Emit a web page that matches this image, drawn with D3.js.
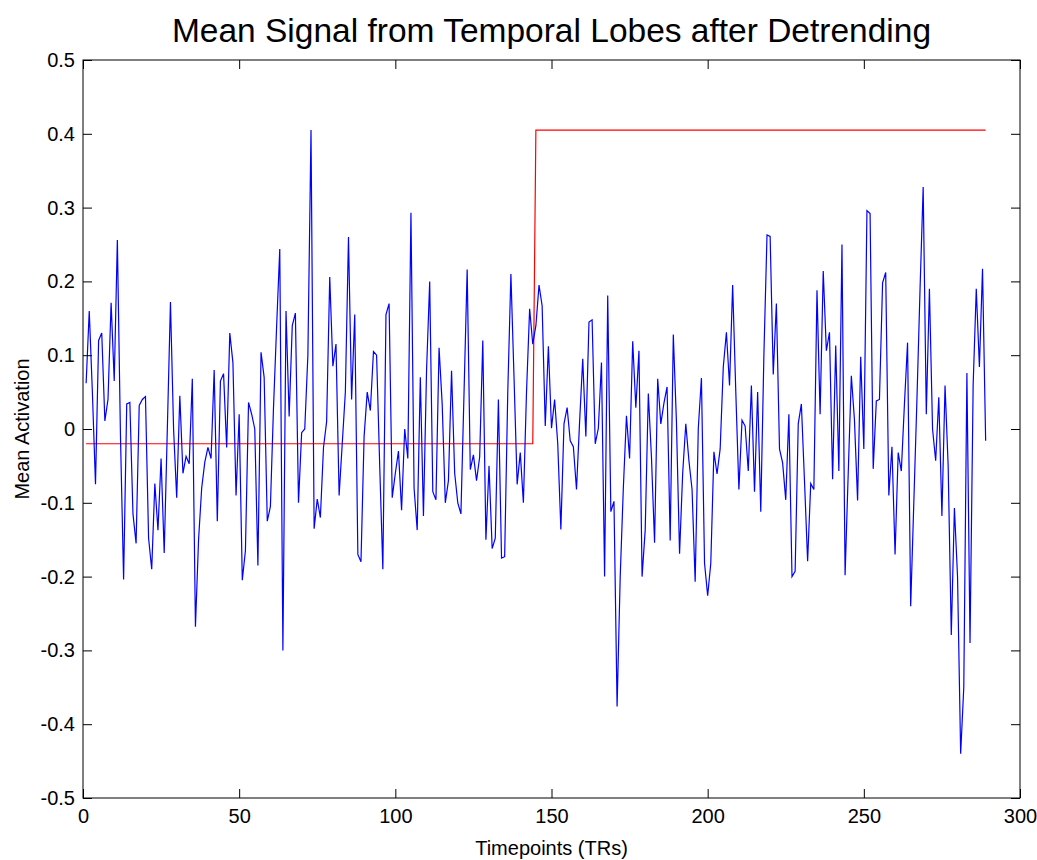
<!DOCTYPE html>
<html><head><meta charset="utf-8">
<script src="https://cdn.jsdelivr.net/npm/d3@7"></script>
<style>body{margin:0;background:#fff;} text{font-family:"Liberation Sans",Arial,sans-serif;}</style>
</head><body><svg id="c" width="1037" height="860"></svg>
<script>
const signal = [0.062,0.16,0.05,-0.075,0.12,0.13,0.011,0.04,0.171,0.065,
0.256,-0.01,-0.204,0.034,0.036,-0.115,-0.155,0.032,0.04,0.044,
-0.148,-0.19,-0.074,-0.137,-0.04,-0.168,0.0,0.172,0.0,-0.093,
0.045,-0.06,-0.037,-0.047,0.068,-0.268,-0.15,-0.08,-0.045,-0.025,
-0.04,0.08,-0.125,0.065,0.075,-0.025,0.13,0.09,-0.09,0.02,
-0.205,-0.165,0.036,0.02,0.0,-0.185,0.104,0.07,-0.125,-0.105,
0.03,0.14,0.244,-0.3,0.16,0.017,0.14,0.157,-0.1,-0.005,
0.0,0.1,0.405,-0.135,-0.095,-0.12,-0.025,0.01,0.206,0.085,
0.115,-0.09,-0.02,0.05,0.26,0.04,0.155,-0.17,-0.18,-0.01,
0.05,0.025,0.105,0.1,-0.05,-0.19,0.155,0.17,-0.093,-0.06,
-0.03,-0.11,0.0,-0.04,0.293,-0.08,-0.137,0.07,-0.118,0.08,
0.2,-0.085,-0.096,0.11,0.034,-0.1,-0.07,0.079,-0.06,-0.1,
-0.115,0.05,0.216,-0.055,-0.035,-0.07,-0.038,0.12,-0.15,-0.05,
-0.162,-0.148,0.04,-0.175,-0.173,0.05,0.21,0.07,-0.075,-0.032,
-0.1,0.05,0.163,0.115,0.14,0.195,0.167,0.004,0.112,0.001,
0.04,-0.02,-0.136,0.007,0.029,-0.016,-0.024,-0.082,0.01,0.095,
-0.01,0.145,0.148,-0.02,0.001,0.09,-0.2,0.181,-0.112,-0.098,
-0.376,-0.2,-0.08,0.018,-0.04,0.119,0.029,0.106,-0.2,-0.137,
0.048,-0.038,-0.154,0.068,0.007,0.035,0.057,-0.151,0.128,0.01,
-0.169,-0.06,0.007,-0.043,-0.082,-0.207,0.001,0.069,-0.182,-0.226,
-0.182,-0.031,-0.061,-0.027,0.084,0.131,0.059,0.195,0.051,-0.082,
0.012,0.004,-0.057,0.059,-0.085,0.05,-0.112,0.1,0.263,0.261,
0.074,0.17,-0.027,-0.046,-0.096,0.02,-0.2,-0.193,0.007,0.034,
-0.07,-0.179,-0.074,-0.082,0.188,0.02,0.214,0.106,0.131,-0.068,
0.113,-0.057,0.25,-0.198,-0.06,0.072,0.012,-0.097,0.098,-0.027,
0.296,0.292,-0.054,0.038,0.04,0.198,0.212,-0.09,-0.024,-0.17,
-0.032,-0.057,0.034,0.117,-0.24,-0.1,0.04,0.19,0.328,0.02,
0.19,0.0,-0.043,0.043,-0.118,0.059,-0.05,-0.279,-0.107,-0.2,
-0.44,-0.35,0.076,-0.29,0.06,0.19,0.084,0.217,-0.016];
const blockLow = -0.02, blockHigh = 0.405, blockSwitch = 145;
const blocks = signal.map((_, i) => (i + 1) < blockSwitch ? blockLow : blockHigh);
const xTicks = [0,50,100,150,200,250,300];
const yTicks = [-0.5,-0.4,-0.3,-0.2,-0.1,0,0.1,0.2,0.3,0.4,0.5];
const yTickLabels = ["-0.5","-0.4","-0.3","-0.2","-0.1","0","0.1","0.2","0.3","0.4","0.5"];
const titleText = "Mean Signal from Temporal Lobes after Detrending";
const xLabel = "Timepoints (TRs)";
const yLabel = "Mean Activation";

const L=83,R=1020,T=60,B=798;
const svg=d3.select("#c");
const x=d3.scaleLinear().domain([0,300]).range([L,R]);
const y=d3.scaleLinear().domain([-0.5,0.5]).range([B,T]);
const fmt=d => yTickLabels[yTicks.indexOf(d)];

const g=svg.append("g");
const line=d3.line().x((d,i)=>x(i+1)).y(d=>y(d));
g.append("path").datum(blocks).attr("d",line).attr("fill","none").attr("stroke","#ff0000").attr("stroke-width",1.2);
g.append("path").datum(signal).attr("d",line).attr("fill","none").attr("stroke","#0000ff").attr("stroke-width",1.2);

const ax=svg.append("g").attr("transform",`translate(0,${B})`).call(d3.axisBottom(x).tickValues(xTicks).tickSizeInner(-9).tickSizeOuter(0).tickPadding(11));
const axT=svg.append("g").attr("transform",`translate(0,${T})`).call(d3.axisTop(x).tickValues(xTicks).tickSizeInner(-9).tickSizeOuter(0).tickFormat(""));
const ay=svg.append("g").attr("transform",`translate(${L},0)`).call(d3.axisLeft(y).tickValues(yTicks).tickFormat(fmt).tickSizeInner(-9).tickSizeOuter(0).tickPadding(8));
const ayR=svg.append("g").attr("transform",`translate(${R},0)`).call(d3.axisRight(y).tickValues(yTicks).tickSizeInner(-9).tickSizeOuter(0).tickFormat(""));
[ax,axT,ay,ayR].forEach(a=>{a.select(".domain").remove();a.selectAll("line").attr("stroke","#000");a.selectAll("text").attr("font-size",20).attr("fill","#000").attr("font-family","Liberation Sans, Arial, sans-serif");});
svg.append("rect").attr("x",L).attr("y",T).attr("width",R-L).attr("height",B-T).attr("fill","none").attr("stroke","#000").attr("stroke-width",1);

svg.append("text").attr("x",(L+R)/2).attr("y",42).attr("text-anchor","middle").attr("font-size",33.5).text(titleText);
svg.append("text").attr("x",(L+R)/2).attr("y",855).attr("text-anchor","middle").attr("font-size",20).text(xLabel);
svg.append("text").attr("transform",`translate(29,${(T+B)/2}) rotate(-90)`).attr("text-anchor","middle").attr("font-size",20).text(yLabel);
</script></body></html>
